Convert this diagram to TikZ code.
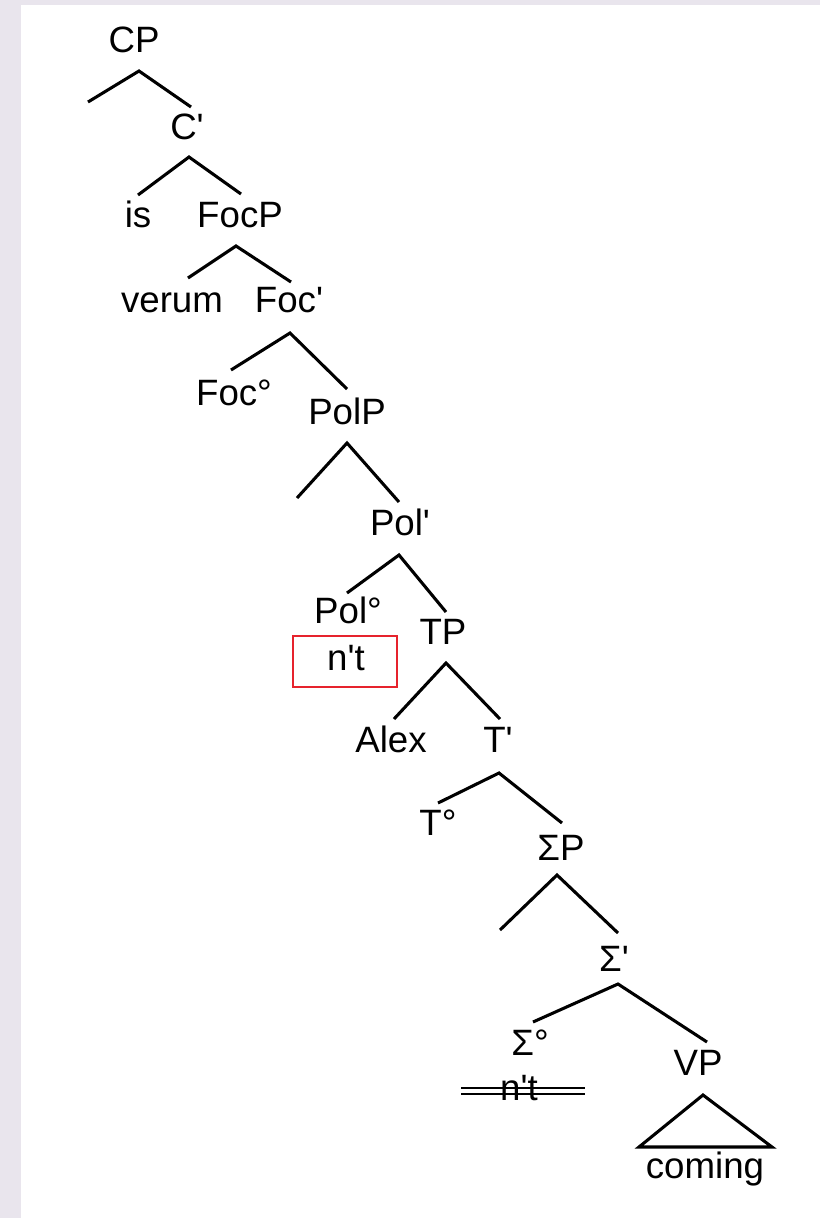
\documentclass[tikz,border=0pt]{standalone}
\usepackage{fontspec}
\newfontfamily\lab{Liberation Sans}
\definecolor{bgcol}{RGB}{233,229,237}
\definecolor{boxred}{RGB}{230,35,45}
\begin{document}
\begin{tikzpicture}[x=0.75pt,y=-0.75pt,
  lbl/.style={font=\lab\fontsize{27.5}{32}\selectfont, inner sep=0pt, anchor=base},
  branch/.style={line width=2.3pt},
  strike/.style={line width=1.7pt}]
\useasboundingbox (0,0) rectangle (820,1218);
\fill[bgcol] (0,0) rectangle (820,1218);
\fill[white] (21,5) rectangle (820,1218);

% labels
\node[lbl] (cp) at (134,52) {CP};
\node[lbl] (cbar) at (187,139) {C'};
\node[lbl] (is) at (138,227) {is};
\node[lbl] (focp) at (240,227) {FocP};
\node[lbl] (verum) at (172,312) {verum};
\node[lbl] (focbar) at (289,312) {Foc'};
\node[lbl] (foc0) at (234,405) {Foc°};
\node[lbl] (polp) at (347,424) {PolP};
\node[lbl] (polbar) at (400,535) {Pol'};
\node[lbl] (pol0) at (348,623) {Pol°};
\node[lbl] (tp) at (443,644) {TP};
\node[draw=boxred, line width=1.5pt, inner sep=0pt, minimum width=78pt, minimum height=38pt] (ntbox) at (345,661.5) {};
\node[lbl] (nt) at (346,670) {n't};
\node[lbl] (alex) at (391,752) {Alex};
\node[lbl] (tbar) at (498,752) {T'};
\node[lbl] (t0) at (438,835) {T°};
\node[lbl] (sigp) at (561,860) {ΣP};
\node[lbl] (sigbar) at (614,971) {Σ'};
\node[lbl] (sig0) at (530,1055) {Σ°};
\node[lbl] (vp) at (698,1075) {VP};
\node[lbl] (ntx) at (519,1100) {n't};
\node[lbl] (coming) at (705,1178) {coming};

% branch coordinates
\coordinate (cpA) at (139,71);   \coordinate (cpL) at (88,102);   \coordinate (cpR) at (191,107);
\coordinate (cbA) at (189,157);  \coordinate (cbL) at (138,195);  \coordinate (cbR) at (241,194);
\coordinate (fpA) at (236,246);  \coordinate (fpL) at (188,278);  \coordinate (fpR) at (291,282);
\coordinate (fbA) at (290,333);  \coordinate (fbL) at (231,370);  \coordinate (fbR) at (347,389);
\coordinate (ppA) at (347,443);  \coordinate (ppL) at (297,498);  \coordinate (ppR) at (399,502);
\coordinate (pbA) at (399,555);  \coordinate (pbL) at (347,593);  \coordinate (pbR) at (446,612);
\coordinate (tpA) at (446,663);  \coordinate (tpL) at (394,719);  \coordinate (tpR) at (500,719);
\coordinate (tbA) at (499,773);  \coordinate (tbL) at (438,803);  \coordinate (tbR) at (562,823);
\coordinate (spA) at (557,875);  \coordinate (spL) at (500,930);  \coordinate (spR) at (618,933);
\coordinate (sbA) at (618,984);  \coordinate (sbL) at (533,1022); \coordinate (sbR) at (707,1042);
\coordinate (triA) at (703,1095); \coordinate (triL) at (639,1147); \coordinate (triR) at (772,1147);
\coordinate (stL1) at (461,1088); \coordinate (stR1) at (585,1088);
\coordinate (stL2) at (461,1094); \coordinate (stR2) at (585,1094);

\draw[branch] (cpL) -- (cpA) -- (cpR);
\draw[branch] (cbL) -- (cbA) -- (cbR);
\draw[branch] (fpL) -- (fpA) -- (fpR);
\draw[branch] (fbL) -- (fbA) -- (fbR);
\draw[branch] (ppL) -- (ppA) -- (ppR);
\draw[branch] (pbL) -- (pbA) -- (pbR);
\draw[branch] (tpL) -- (tpA) -- (tpR);
\draw[branch] (tbL) -- (tbA) -- (tbR);
\draw[branch] (spL) -- (spA) -- (spR);
\draw[branch] (sbL) -- (sbA) -- (sbR);
\draw[branch] (triA) -- (triL) -- (triR) -- cycle;
\draw[strike] (stL1) -- (stR1);
\draw[strike] (stL2) -- (stR2);
\end{tikzpicture}
\end{document}
